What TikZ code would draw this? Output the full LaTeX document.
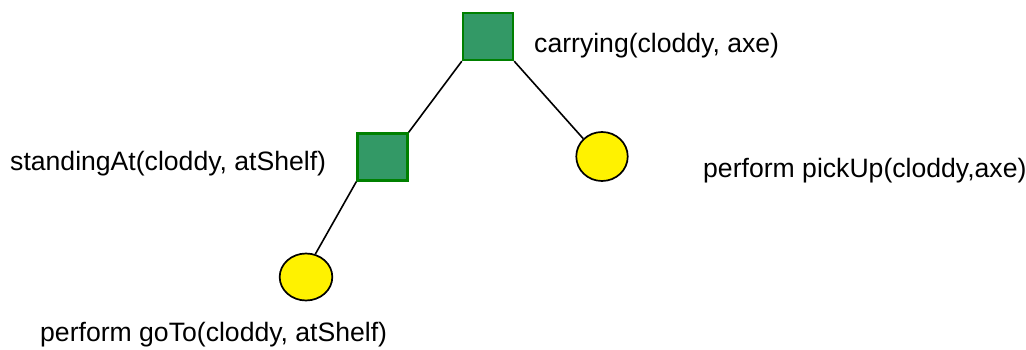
\documentclass[tikz,border=0pt]{standalone}
\usepackage{fontspec}
\setmainfont{Liberation Sans}
\begin{document}
\begin{tikzpicture}[x=1pt,y=-1pt,
  cond/.style={draw=green!50!black, line width=2.4pt, fill=goalgreen, minimum width=50pt, minimum height=47pt, inner sep=0pt},
  act/.style={draw=black, line width=1.7pt, fill=yellow, circle, inner sep=0pt},
  lbl/.style={anchor=base west, inner sep=0pt, font=\fontsize{26.6}{30}\selectfont},
  link/.style={line width=1.6pt}]
\definecolor{goalgreen}{HTML}{339966}
\useasboundingbox (0,0) rectangle (1026,350);
% goal tree: conditions as squares, actions as ellipses
\node[cond] (carry) at (488,36.5) {};
\node[cond] (stand) at (382.5,157) {};
\node[act, minimum size=49pt, xscale=1.05] (pick) at (602,156.5) {};
\node[act, minimum size=47pt, xscale=1.12] (goto) at (306,277) {};
% links
\draw[link] (carry.south west) -- (stand.north east);
\draw[link] (carry.south east) -- (pick.135);
\draw[link] (stand.south west) -- (goto.70);
% labels
\node[lbl] (t1) at (534,53) {carrying(cloddy, axe)};
\node[lbl] (t2) at (10,171) {standingAt(cloddy, atShelf)};
\node[lbl] (t3) at (703,178) {perform pickUp(cloddy,axe)};
\node[lbl] (t4) at (40,341) {perform goTo(cloddy, atShelf)};
\end{tikzpicture}
\end{document}
